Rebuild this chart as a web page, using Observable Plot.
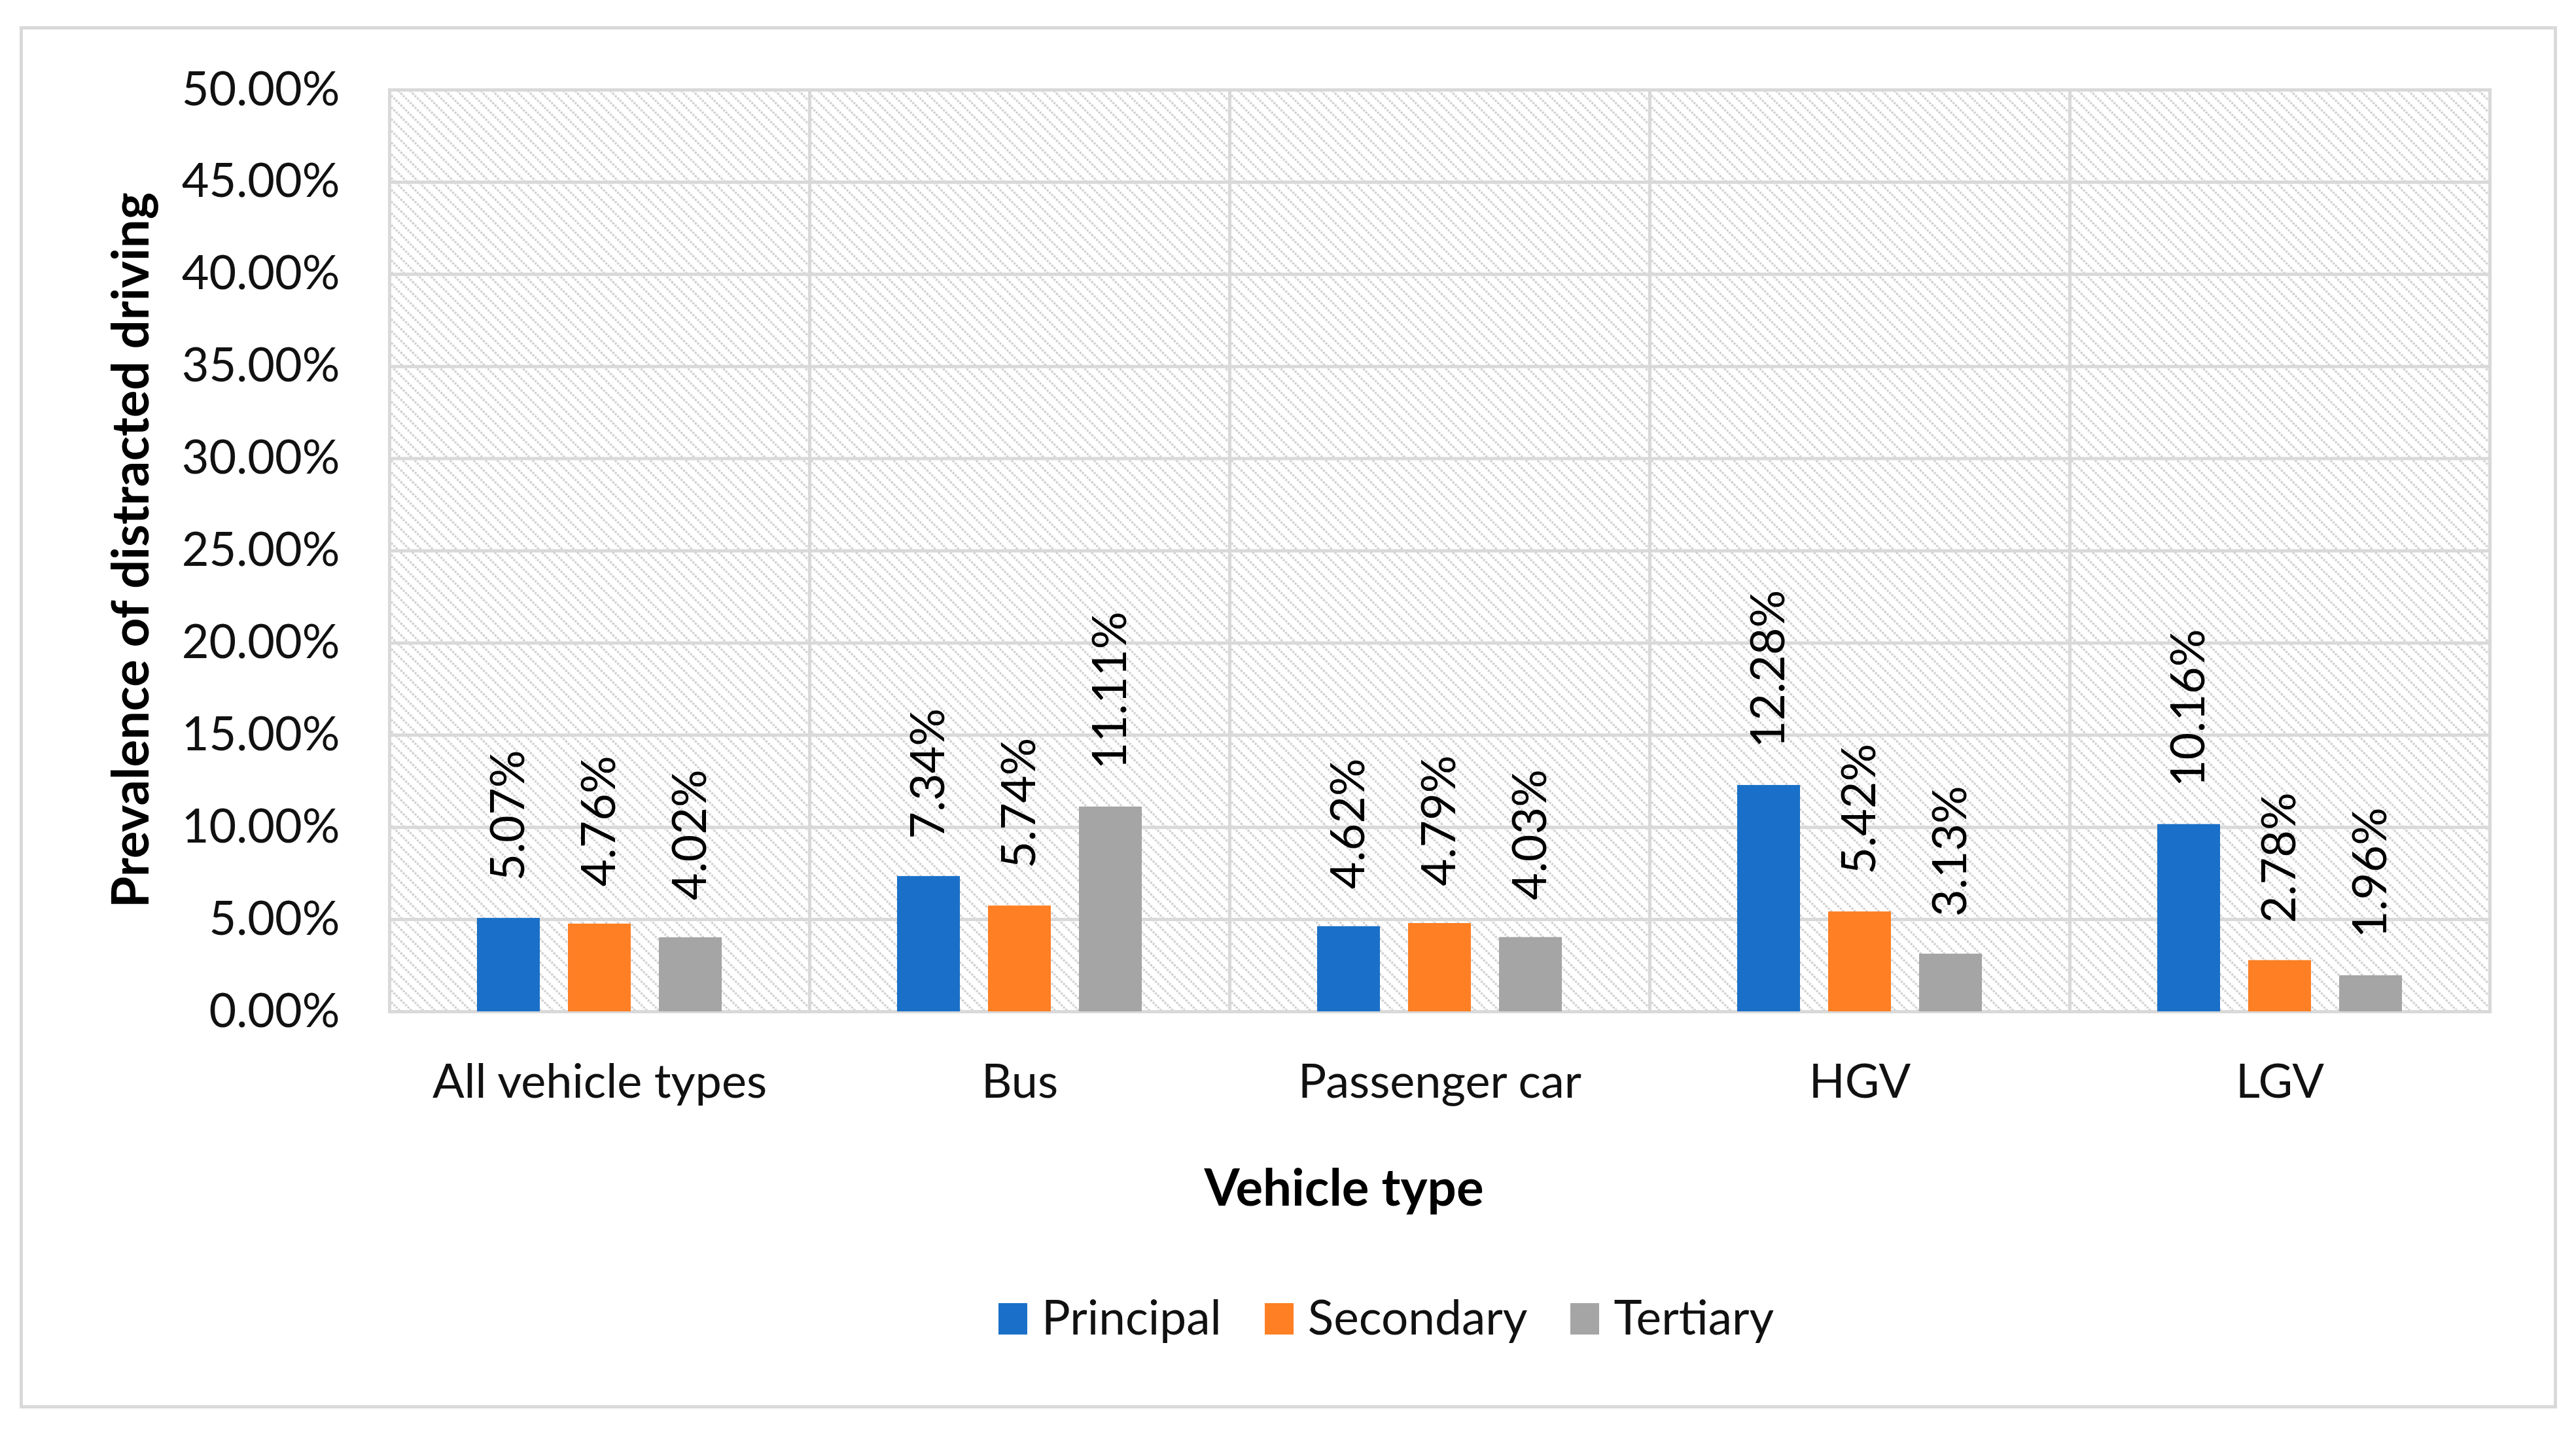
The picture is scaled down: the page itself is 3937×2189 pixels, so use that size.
<!DOCTYPE html>
<html><head><meta charset="utf-8">
<script src="https://cdn.jsdelivr.net/npm/d3@7"></script>
<script src="https://cdn.jsdelivr.net/npm/@observablehq/plot@0.6"></script>
<style>
html,body{margin:0;padding:0;background:#fff;}
body{width:3937px;height:2189px;position:relative;overflow:hidden;font-family:Lato, sans-serif;}
#border{position:absolute;left:30px;top:40px;width:3878px;height:2113px;box-sizing:border-box;border:5px solid #d9d9d9;}
#chart{position:absolute;left:0;top:0;}
.title{position:absolute;font:bold 78px Lato, sans-serif;line-height:1;white-space:nowrap;color:#000;}
#ytitle{left:197px;top:841px;transform:translate(-50%,-50%) rotate(-90deg);}
#xtitle{left:2054px;top:1813px;transform:translate(-50%,-50%);}
#legend{position:absolute;left:1526px;top:1976px;font:73px Lato, sans-serif;line-height:1;white-space:nowrap;color:#111;}
.item{display:inline-block;margin-right:66px;}
.item:last-child{margin-right:0;}
.sw{display:inline-block;width:44px;height:48px;margin-right:22px;}
</style></head>
<body>
<div id="border"></div>
<div id="chart"></div>
<div id="ytitle" class="title">Prevalence of distracted driving</div>
<div id="xtitle" class="title">Vehicle type</div>
<div id="legend"></div>
<script>
const categories = ["All vehicle types", "Bus", "Passenger car", "HGV", "LGV"];
const series = ["Principal", "Secondary", "Tertiary"];
const principal = [5.07, 7.34, 4.62, 12.28, 10.16];
const secondary = [4.76, 5.74, 4.79, 5.42, 2.78];
const tertiary = [4.02, 11.11, 4.03, 3.13, 1.96];
const yTicks = [0, 5, 10, 15, 20, 25, 30, 35, 40, 45, 50];
const colors = ["#1A70C8", "#FE7F24", "#A5A5A5"];
const yAxisTitle = "Prevalence of distracted driving";
const xAxisTitle = "Vehicle type";

const seriesValues = [principal, secondary, tertiary];
const data = categories.flatMap((c, i) =>
  seriesValues.map((arr, j) => ({category: c, series: series[j], value: arr[i]})));
const fmt = v => v.toFixed(2) + "%";

const plot = Plot.plot({
  width: 3937, height: 1720,
  marginLeft: 593, marginRight: 130, marginTop: 137, marginBottom: 174,
  style: {fontFamily: "Lato, sans-serif", fontSize: "72px", color: "#111", background: "transparent"},
  fx: {domain: categories, padding: 0, axis: null, label: null},
  x: {domain: series, paddingInner: 0.307, paddingOuter: 0.95, axis: null, label: null},
  y: {domain: [0, 50], axis: null, label: null},
  color: {domain: series, range: colors},
  marks: [
    Plot.frame({fill: "url(#hatch)", stroke: "none"}),
    Plot.gridY(yTicks, {stroke: "#d9d9d9", strokeOpacity: 1, strokeWidth: 5}),
    Plot.frame({stroke: "#d9d9d9", strokeWidth: 5, strokeOpacity: 1}),
    Plot.axisY(yTicks, {tickSize: 0, tickPadding: 76, tickFormat: fmt, fontSize: 72, fill: "#111", label: null}),
    Plot.axisFx({anchor: "bottom", tickSize: 0, tickPadding: 80, fontSize: 72, fill: "#111", label: null}),
    Plot.barY(data, {fx: "category", x: "series", y: "value", fill: "series"}),
    Plot.text(data, {fx: "category", x: "series", y: "value", text: d => fmt(d.value),
      rotate: -90, textAnchor: "start", dy: -57, fontSize: 72, fill: "#000"})
  ]
});

const defs = d3.create("svg:defs");
const pat = defs.append("pattern").attr("id", "hatch").attr("patternUnits", "userSpaceOnUse")
  .attr("width", 18).attr("height", 18);
pat.append("rect").attr("width", 18).attr("height", 18).attr("fill", "#fff");
pat.append("path").attr("d", "M-2,-2L20,20M-2,16L2,20M16,-2L20,2")
  .attr("stroke", "#c8c8c8").attr("stroke-width", 3).attr("stroke-dasharray", "3,2");
plot.insertBefore(defs.node(), plot.firstChild);
document.getElementById("chart").appendChild(plot);

document.getElementById("ytitle").textContent = yAxisTitle;
document.getElementById("xtitle").textContent = xAxisTitle;
const legend = d3.select("#legend");
series.forEach((s, i) => {
  const it = legend.append("span").attr("class", "item");
  it.append("span").attr("class", "sw").style("background", colors[i]);
  it.append("span").text(s);
});
</script>
</body></html>
